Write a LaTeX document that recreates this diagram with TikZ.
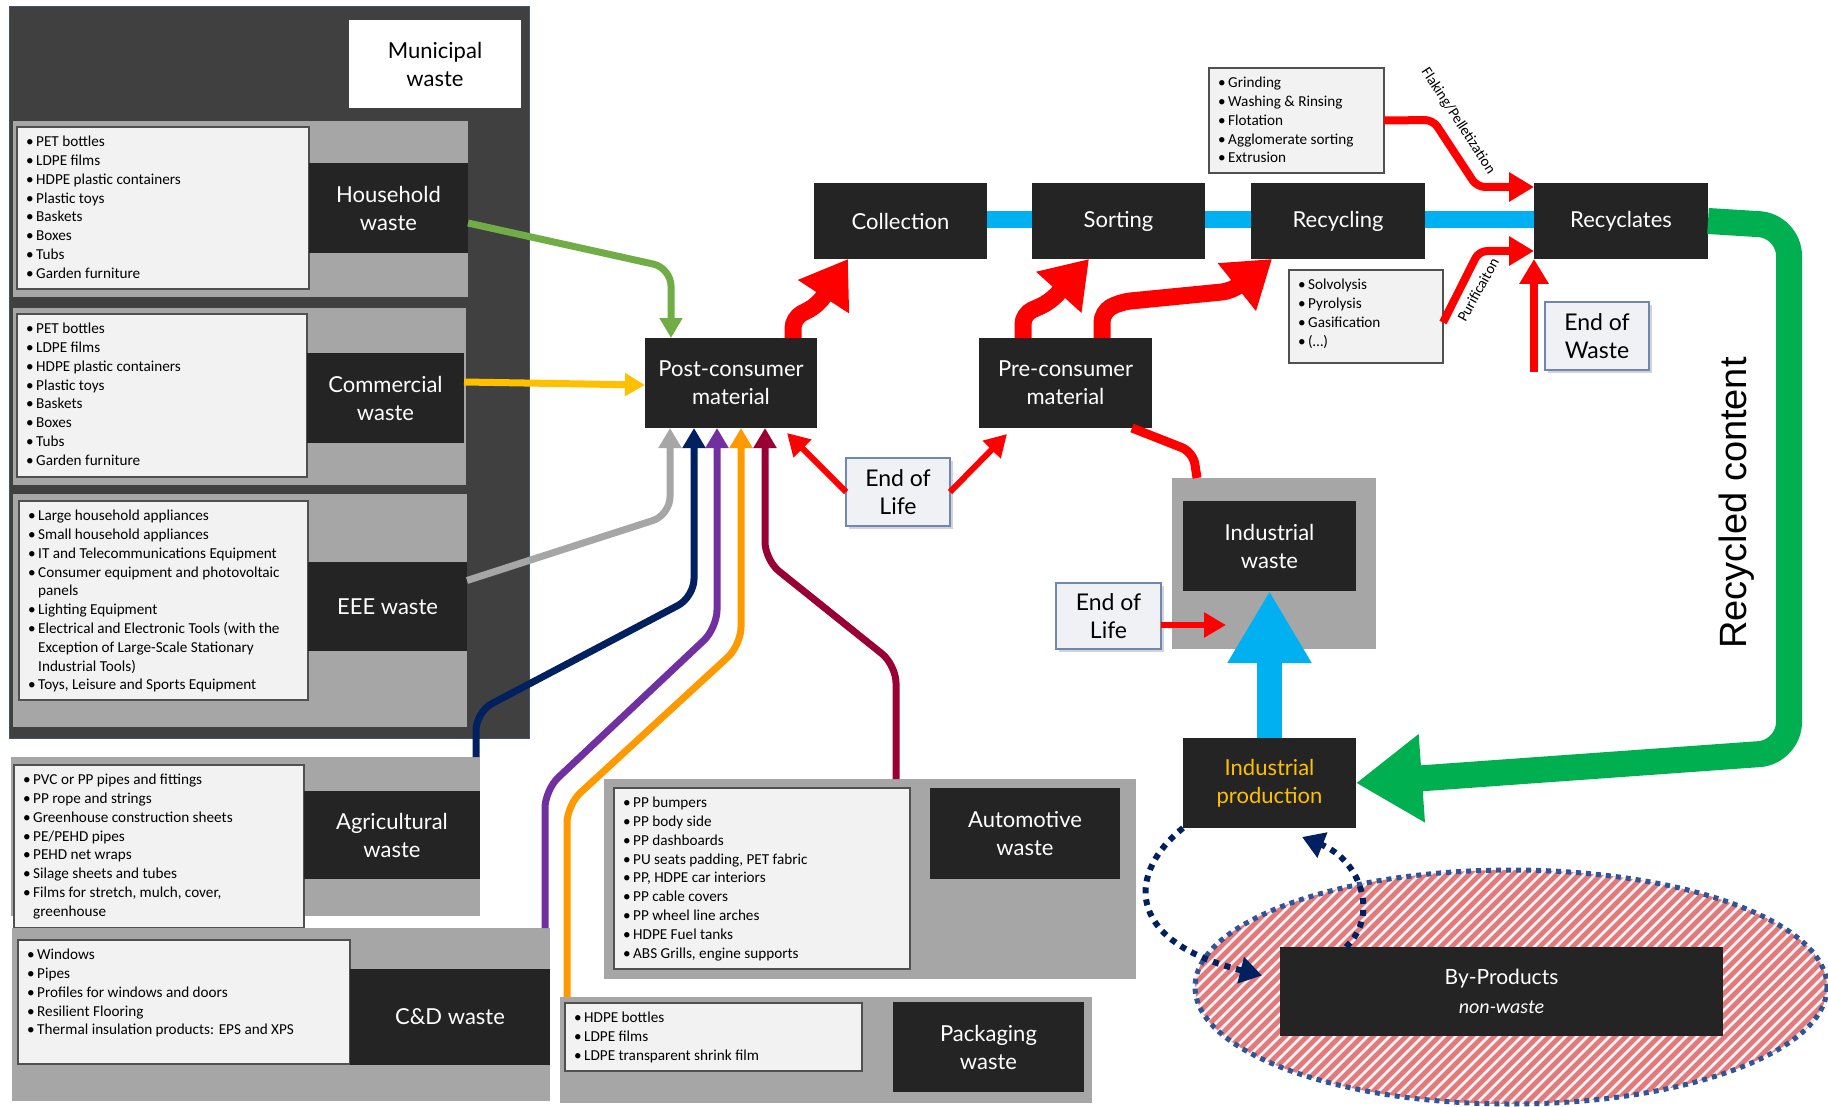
\documentclass[tikz,border=0pt]{standalone}
\usepackage{fontspec}
\setmainfont{Lato}
\newfontfamily\lstfont{Carlito}
\newfontfamily\ttlfont{Lato}
\newfontfamily\rcfont{Liberation Sans}
\usetikzlibrary{arrows.meta,shadows,backgrounds}

\definecolor{munibg}{RGB}{64,64,64}
\definecolor{muniline}{RGB}{68,84,106}
\definecolor{panel}{RGB}{166,166,166}
\definecolor{dbox}{RGB}{35,36,35}
\definecolor{lfill}{RGB}{242,242,242}
\definecolor{lline}{RGB}{80,80,80}
\definecolor{eolline}{RGB}{112,134,180}
\definecolor{eolfill}{RGB}{240,241,245}
\definecolor{cgreen}{RGB}{112,173,71}
\definecolor{cgold}{RGB}{255,192,0}
\definecolor{cgray}{RGB}{166,166,166}
\definecolor{cnavy}{RGB}{0,32,96}
\definecolor{cpurple}{RGB}{112,48,160}
\definecolor{corange}{RGB}{255,153,0}
\definecolor{cwine}{RGB}{153,0,51}
\definecolor{cblue}{RGB}{0,176,240}
\definecolor{cgreenbig}{RGB}{0,176,80}
\definecolor{hatchpink}{RGB}{226,122,124}
\definecolor{dotblue}{RGB}{47,85,151}

% box from its two corners (x1,y1) (x2,y2)
\newcommand{\placebox}[7]{\node[#1, minimum width={(#5)-(#3)}, minimum height={(#6)-(#4)}] (#2) at ({((#3)+(#5))/2},{((#4)+(#6))/2}) {#7};}
\newcommand{\bul}{\makebox[10pt][l]{\textbullet}}
\newcommand{\contl}{\hspace*{10pt}}

\tikzset{
  panelbox/.style={fill=panel, inner sep=0pt, outer sep=0pt},
  dark/.style={fill=dbox, text=white, font=\ttlfont\fontsize{22}{28}\selectfont, align=center, inner sep=0pt, outer sep=0pt},
  listbox/.style={fill=lfill, draw=lline, line width=1.2pt, inner sep=0pt, outer sep=0pt},
  listtext/.style={anchor=north west, inner sep=0pt, align=left, font=\lstfont\fontsize{15.2}{18.8}\selectfont, text=black},
  eolbox/.style={fill=eolfill, draw=eolline, line width=1.5pt, font=\ttlfont\fontsize{23}{28}\selectfont, align=center, inner sep=0pt, outer sep=0pt, drop shadow={opacity=0.35, shadow xshift=3pt, shadow yshift=-3pt}},
  feed/.style={line width=7pt, rounded corners=18pt, -{Triangle[length=20pt,width=22pt]}},
  bigred/.style={draw=red, line width=17pt, rounded corners=10pt, -{Triangle[length=45pt,width=58pt]}},
  thinred/.style={draw=red, line width=6pt, -{Triangle[length=22pt,width=24pt]}},
  procred/.style={draw=red, line width=8pt, rounded corners=8pt, -{Triangle[length=25pt,width=28pt]}},
  dotarrow/.style={draw=cnavy, line width=6pt, dash pattern=on 6pt off 6pt, -{Triangle[length=22pt,width=26pt]}},
  smalllbl/.style={font=\lstfont\fontsize{15}{16}\selectfont, inner sep=0pt},
}

\begin{document}
\begin{tikzpicture}[x=1pt,y=-1pt]
\useasboundingbox (0,0) rectangle (1828,1107);

% ---------- municipal waste frame ----------
\placebox{fill=munibg, draw=muniline, line width=1pt, inner sep=0pt}{muni}{9}{7}{529}{738}{}
\placebox{fill=white, font=\ttlfont\fontsize{22}{28}\selectfont, align=center, inner sep=0pt}{munilab}{349}{20}{521}{108}{Municipal\\waste}

% household
\placebox{panelbox}{hhpanel}{13}{121}{468}{297}{}
\placebox{listbox}{hhlist}{17}{127}{309}{289}{}
\placebox{dark}{hhlab}{309}{163}{468}{253}{Household\\waste}
\node[listtext] (hhtxt) at ([shift={(9pt,-9pt)}]hhlist.north west)
  {\bul PET bottles\\\bul LDPE films\\\bul HDPE plastic containers\\\bul Plastic toys\\\bul Baskets\\\bul Boxes\\\bul Tubs\\\bul Garden furniture};

% commercial
\placebox{panelbox}{companel}{13}{308}{466}{485}{}
\placebox{listbox}{comlist}{17}{314}{307}{477}{}
\placebox{dark}{comlab}{307}{353}{464}{443}{Commercial\\waste}
\node[listtext] (comtxt) at ([shift={(9pt,-9pt)}]comlist.north west)
  {\bul PET bottles\\\bul LDPE films\\\bul HDPE plastic containers\\\bul Plastic toys\\\bul Baskets\\\bul Boxes\\\bul Tubs\\\bul Garden furniture};

% EEE
\placebox{panelbox}{eeepanel}{13}{494}{467}{727}{}
\placebox{listbox}{eeelist}{19}{501}{308}{700}{}
\placebox{dark}{eeelab}{308}{562}{467}{651}{EEE waste}
\node[listtext] (eeetxt) at ([shift={(9pt,-9pt)}]eeelist.north west)
  {\bul Large household appliances\\\bul Small household appliances\\\bul IT and Telecommunications Equipment\\\bul Consumer equipment and photovoltaic\\\contl panels\\\bul Lighting Equipment\\\bul Electrical and Electronic Tools (with the\\\contl Exception of Large-Scale Stationary\\\contl Industrial Tools)\\\bul Toys, Leisure and Sports Equipment};

% agricultural
\placebox{panelbox}{agpanel}{11}{757}{480}{916}{}
\placebox{listbox}{aglist}{14}{765}{304}{928}{}
\placebox{dark}{aglab}{304}{791}{480}{879}{Agricultural\\waste}
\node[listtext] (agtxt) at ([shift={(9pt,-9pt)}]aglist.north west)
  {\bul PVC or PP pipes and fittings\\\bul PP rope and strings\\\bul Greenhouse construction sheets\\\bul PE/PEHD pipes\\\bul PEHD net wraps\\\bul Silage sheets and tubes\\\bul Films for stretch, mulch, cover,\\\contl greenhouse};

% construction & demolition
\placebox{panelbox}{cdpanel}{12}{928}{550}{1101}{}
\placebox{listbox}{cdlist}{18}{940}{350}{1064}{}
\placebox{dark}{cdlab}{350}{969}{550}{1065}{C\&D waste}
\node[listtext] (cdtxt) at ([shift={(9pt,-9pt)}]cdlist.north west)
  {\bul Windows\\\bul Pipes\\\bul Profiles for windows and doors\\\bul Resilient Flooring\\\bul Thermal insulation products: EPS and XPS};

% automotive
\placebox{panelbox}{aupanel}{604}{779}{1136}{979}{}
\placebox{listbox}{aulist}{614}{788}{910}{969}{}
\placebox{dark}{aulab}{930}{788}{1120}{879}{Automotive\\waste}
\node[listtext] (autxt) at ([shift={(9pt,-9pt)}]aulist.north west)
  {\bul PP bumpers\\\bul PP body side\\\bul PP dashboards\\\bul PU seats padding, PET fabric\\\bul PP, HDPE car interiors\\\bul PP cable covers\\\bul PP wheel line arches\\\bul HDPE Fuel tanks\\\bul ABS Grills, engine supports};

% packaging
\placebox{panelbox}{pkpanel}{560}{997}{1092}{1103}{}
\placebox{listbox}{pklist}{565}{1003}{862}{1071}{}
\placebox{dark}{pklab}{893}{1002}{1084}{1092}{Packaging\\waste}
\node[listtext] (pktxt) at ([shift={(9pt,-9pt)}]pklist.north west)
  {\bul HDPE bottles\\\bul LDPE films\\\bul LDPE transparent shrink film};

% ---------- process chain ----------
\placebox{dark}{post}{645}{338}{817}{428}{Post-consumer\\material}
\placebox{dark}{coll}{814}{183}{987}{259}{Collection}
\placebox{dark}{sort}{1032}{183}{1205}{259}{Sorting}
\placebox{dark}{recy}{1251}{183}{1425}{259}{Recycling}
\placebox{dark}{recl}{1534}{183}{1708}{259}{Recyclates}
\placebox{dark}{pre}{979}{338}{1152}{428}{Pre-consumer\\material}

\begin{scope}[on background layer]
  \draw[cblue, line width=17pt] (coll.center |- 0,220) -- (recl.center |- 0,220);
\end{scope}

\placebox{listbox}{grind}{1209}{68}{1384}{173}{}
\node[listtext] (grindtxt) at ([shift={(9pt,-9pt)}]grind.north west)
  {\bul Grinding\\\bul Washing \& Rinsing\\\bul Flotation\\\bul Agglomerate sorting\\\bul Extrusion};
\placebox{listbox}{solv}{1289}{270}{1443}{363}{}
\node[listtext] (solvtxt) at ([shift={(9pt,-9pt)}]solv.north west)
  {\bul Solvolysis\\\bul Pyrolysis\\\bul Gasification\\\bul (…)};

\placebox{eolbox}{eow}{1545}{302}{1649}{370}{End of\\Waste}
\placebox{eolbox}{eolm}{846}{458}{950}{526}{End of\\Life}

% industrial block
\placebox{panelbox}{indgray}{1172}{478}{1376}{649}{}
\placebox{dark}{indw}{1183}{501}{1356}{591}{Industrial\\waste}
\placebox{eolbox}{eoll}{1056}{583}{1161}{649}{End of\\Life}
\placebox{dark, text=cgold}{prod}{1183}{738}{1356}{828}{Industrial\\production}

% by-products ellipse
\begin{scope}
  \clip (1511,987) ellipse [x radius=316, y radius=117];
  \fill[hatchpink] (1180,860) rectangle (1830,1110);
  \foreach \s in {920,931,...,1840}
    \draw[white!92!hatchpink, line width=2.6pt] (\s,1110) -- ++(260,-260);
\end{scope}
\draw[dotblue, line width=5pt, dash pattern=on 5pt off 5pt] (1511,987) ellipse [x radius=316, y radius=117];
\placebox{dark, font=\ttlfont\fontsize{21}{29}\selectfont}{byp}{1280}{947}{1723}{1036}{By-Products\\{\lstfont\itshape\fontsize{20}{24}\selectfont non-waste}}

\node[font=\rcfont\fontsize{38}{40}\selectfont, rotate=90, inner sep=0pt] (rc) at (1737,503) {Recycled content};

% ---------- connectors ----------
% waste streams into post-consumer material
\draw[feed, cgreen] ([yshift=-15pt]hhlab.east) -- (671,268) -- (671,0 |- post.north);
\draw[feed, cgold, rounded corners=0pt] ([yshift=16pt]comlab.east) -- ([yshift=-2pt]post.west);
\draw[feed, cgray] ([yshift=26pt]eeelab.east) -- (670,515) -- (670,0 |- post.south);
\draw[feed, cnavy] (476,0 |- agpanel.north) -- (476,712) -- (694,597) -- (694,0 |- post.south);
\draw[feed, cpurple] (545,0 |- cdpanel.north) -- (545,790) -- (717,628) -- (717,0 |- post.south);
\draw[feed, corange] (567,0 |- pkpanel.north) -- (567,805) -- (741,645) -- (741,0 |- post.south);
\draw[feed, cwine] (896,0 |- aupanel.north) -- (896,665) -- (765,560) -- (765,0 |- post.south);

% end of life
\draw[thinred] (eolm.west) -- ([xshift=-30pt,yshift=-5pt]post.south east);
\draw[thinred] (eolm.east) -- ([xshift=28pt,yshift=-6pt]pre.south west);
\draw[thinred] ([yshift=-9pt]eoll.east) -- ++(65pt,0);

% material into the chain
\draw[bigred] (793,0 |- post.north) -- (793,318) -- (818,305) -- (848,0 |- coll.south);
\draw[bigred] (1023,0 |- pre.north) -- (1023,314) -- (1050,302) -- (1089,0 |- sort.south);
\draw[bigred] (1102,0 |- pre.north) -- (1102,312) -- (1120,302) -- (1232,291) -- (1272,0 |- recy.south);
\draw[red, line width=9pt, rounded corners=12pt] (1132,0 |- pre.south) -- (1193,452) -- (1197,0 |- indgray.north);

% recycling routes
\draw[procred] (grind.east) -- (1433,120) -- (1477,187) -- (recl.west |- 0,187);
\draw[procred] ([yshift=-6pt]solv.east) -- (1479,251) -- (recl.west |- 0,251);
\node[smalllbl, rotate=-57] (flk) at (1458,121) {Flaking/Pelletization};
\node[smalllbl, rotate=61] (pur) at (1478,290) {Purificaiton};
\draw[procred, rounded corners=0pt] ([xshift=-11pt,yshift=-2pt]eow.south west) -- (1534,0 |- recl.south);

% recycled content back to production
\draw[cgreenbig, line width=26pt, rounded corners=30pt, -{Triangle[length=66pt,width=84pt]}]
  (recl.east) -- (1789,226) -- (1789,752) -- (prod.east);
\draw[cblue, line width=25pt, -{Triangle[length=72pt,width=79pt]}] (prod.north) -- (indw.south);

% by-products loop
\draw[dotarrow] (prod.south west) .. controls (1130,870) and (1120,940) .. ([xshift=-18pt,yshift=16pt]byp.west);
\draw[dotarrow] ([xshift=66pt]byp.north west) .. controls (1380,915) and (1360,860) .. ([xshift=-54pt,yshift=-9pt]prod.south east);

\end{tikzpicture}
\end{document}
